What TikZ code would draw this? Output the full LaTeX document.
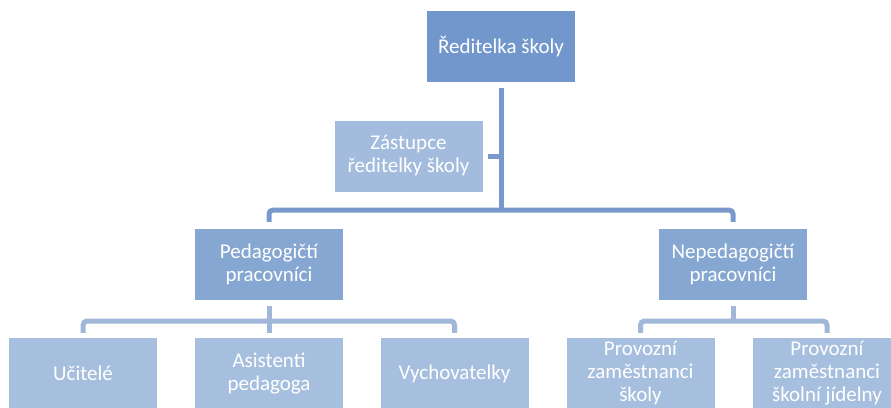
\documentclass[tikz,border=0pt]{standalone}
\usepackage{fontspec}
\setmainfont{Carlito}
\usepackage{tikz}
\usetikzlibrary{positioning}
\definecolor{dirblue}{RGB}{114,151,204}
\definecolor{depblue}{RGB}{163,188,221}
\definecolor{grpblue}{RGB}{134,167,210}
\definecolor{leafblue}{RGB}{167,191,222}
\definecolor{trunkblue}{RGB}{121,153,204}
\definecolor{branchblue}{RGB}{161,183,217}
\tikzset{unit/.style = {minimum width = 148pt, minimum height = 71pt, inner sep = 0,
                        align = center, text = white,
                        font = \fontsize{21}{23}\selectfont}}
\tikzset{trunk/.style = {draw = trunkblue, line width = 5pt, rounded corners = 4pt}}
\tikzset{branch/.style = {draw = branchblue, line width = 5pt, rounded corners = 4pt}}

\begin{document}
\begin{tikzpicture}[x=1pt, y=-1pt]
    \useasboundingbox (0, 0) rectangle (891, 407);

    \node [unit, fill=dirblue] (dir) at (501, 46.5) {Ředitelka školy};
    \node [unit, fill=depblue] (dep) at (408.5, 156) {Zástupce\\ředitelky školy};

    \node [unit, fill=grpblue] (ped) at (269, 264.5) {Pedagogičtí\\pracovníci};
    \node [unit, fill=grpblue] (neped) at (733, 264.5) {Nepedagogičtí\\pracovníci};

    \node [unit, fill=leafblue] (teach) at (83, 373.5) {Učitelé};
    \node [unit, fill=leafblue] (asist) at (269, 373.5) {Asistenti\\pedagoga};
    \node [unit, fill=leafblue] (vych) at (454.5, 373.5) {Vychovatelky};
    \node [unit, fill=leafblue] (provs) at (640.5, 373.5) {Provozní\\zaměstnanci\\školy};
    \node [unit, fill=leafblue] (provj) at (827, 373.5) {Provozní\\zaměstnanci\\školní jídelny};

    \coordinate (hub) at (501, 210);
    \coordinate (pedbar) at (269, 321);
    \coordinate (nepbar) at (733, 321);

    \draw [trunk] ([yshift=-6pt]dir.south) -- (hub);
    \draw [trunk] ([xshift=5pt]dep.east) -- (dep.east -| hub);
    \draw [trunk] ([yshift=7pt]ped.north) |- (hub) -| ([yshift=7pt]neped.north);

    \draw [branch] ([yshift=-6pt]ped.south) -- (pedbar);
    \draw [branch] ([yshift=5pt]teach.north) |- (pedbar) -| ([yshift=5pt]vych.north);
    \draw [branch] (pedbar) -- ([yshift=5pt]asist.north);

    \draw [branch] ([yshift=-6pt]neped.south) -- (nepbar);
    \draw [branch] ([yshift=5pt]provs.north) |- (nepbar) -| ([yshift=5pt]provj.north);
  \end{tikzpicture}
\end{document}
